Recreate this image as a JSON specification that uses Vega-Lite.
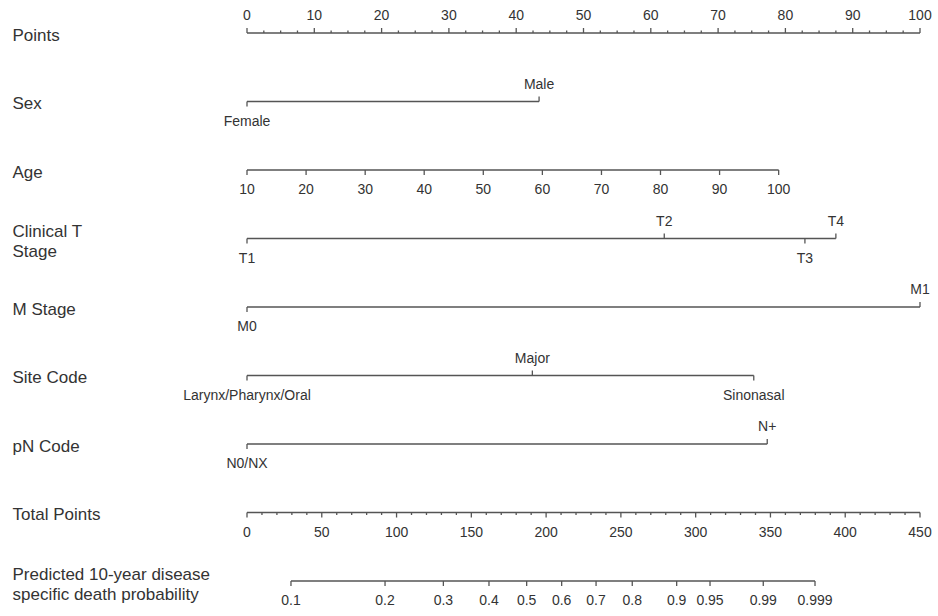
{
  "$schema": "https://vega.github.io/schema/vega-lite/v6.json",
  "width": 673,
  "height": 548,
  "autosize": {"type": "none"},
  "padding": {"left": 247, "top": 33, "right": 18, "bottom": 35},
  "background": "white",
  "config": {"view": {"stroke": null}, "font": "Liberation Sans"},
  "datasets": {
    "lines": [
      {"row": "Points", "s": "pts", "x0": 0, "x1": 100},
      {"row": "Sex", "s": "pts", "x0": 0, "x1": 43.4},
      {"row": "Age", "s": "pts", "x0": 0, "x1": 79},
      {"row": "Clinical T|Stage", "s": "pts", "x0": 0, "x1": 87.5},
      {"row": "M Stage", "s": "pts", "x0": 0, "x1": 100},
      {"row": "Site Code", "s": "pts", "x0": 0, "x1": 75.3},
      {"row": "pN Code", "s": "pts", "x0": 0, "x1": 77.3},
      {"row": "Total Points", "s": "tot", "x0": 0, "x1": 450},
      {"row": "Predicted 10-year disease|specific death probability", "s": "tot", "x0": 29.4, "x1": 379.8}
    ],
    "ticks": [
      {"row": "Points", "s": "pts", "v": 0, "label": "0", "dir": "up", "k": "major"},
      {"row": "Points", "s": "pts", "v": 10, "label": "10", "dir": "up", "k": "major"},
      {"row": "Points", "s": "pts", "v": 20, "label": "20", "dir": "up", "k": "major"},
      {"row": "Points", "s": "pts", "v": 30, "label": "30", "dir": "up", "k": "major"},
      {"row": "Points", "s": "pts", "v": 40, "label": "40", "dir": "up", "k": "major"},
      {"row": "Points", "s": "pts", "v": 50, "label": "50", "dir": "up", "k": "major"},
      {"row": "Points", "s": "pts", "v": 60, "label": "60", "dir": "up", "k": "major"},
      {"row": "Points", "s": "pts", "v": 70, "label": "70", "dir": "up", "k": "major"},
      {"row": "Points", "s": "pts", "v": 80, "label": "80", "dir": "up", "k": "major"},
      {"row": "Points", "s": "pts", "v": 90, "label": "90", "dir": "up", "k": "major"},
      {"row": "Points", "s": "pts", "v": 100, "label": "100", "dir": "up", "k": "major"},
      {"row": "Points", "s": "pts", "v": 2.5, "dir": "up", "k": "minor"},
      {"row": "Points", "s": "pts", "v": 5, "dir": "up", "k": "minor"},
      {"row": "Points", "s": "pts", "v": 7.5, "dir": "up", "k": "minor"},
      {"row": "Points", "s": "pts", "v": 12.5, "dir": "up", "k": "minor"},
      {"row": "Points", "s": "pts", "v": 15, "dir": "up", "k": "minor"},
      {"row": "Points", "s": "pts", "v": 17.5, "dir": "up", "k": "minor"},
      {"row": "Points", "s": "pts", "v": 22.5, "dir": "up", "k": "minor"},
      {"row": "Points", "s": "pts", "v": 25, "dir": "up", "k": "minor"},
      {"row": "Points", "s": "pts", "v": 27.5, "dir": "up", "k": "minor"},
      {"row": "Points", "s": "pts", "v": 32.5, "dir": "up", "k": "minor"},
      {"row": "Points", "s": "pts", "v": 35, "dir": "up", "k": "minor"},
      {"row": "Points", "s": "pts", "v": 37.5, "dir": "up", "k": "minor"},
      {"row": "Points", "s": "pts", "v": 42.5, "dir": "up", "k": "minor"},
      {"row": "Points", "s": "pts", "v": 45, "dir": "up", "k": "minor"},
      {"row": "Points", "s": "pts", "v": 47.5, "dir": "up", "k": "minor"},
      {"row": "Points", "s": "pts", "v": 52.5, "dir": "up", "k": "minor"},
      {"row": "Points", "s": "pts", "v": 55, "dir": "up", "k": "minor"},
      {"row": "Points", "s": "pts", "v": 57.5, "dir": "up", "k": "minor"},
      {"row": "Points", "s": "pts", "v": 62.5, "dir": "up", "k": "minor"},
      {"row": "Points", "s": "pts", "v": 65, "dir": "up", "k": "minor"},
      {"row": "Points", "s": "pts", "v": 67.5, "dir": "up", "k": "minor"},
      {"row": "Points", "s": "pts", "v": 72.5, "dir": "up", "k": "minor"},
      {"row": "Points", "s": "pts", "v": 75, "dir": "up", "k": "minor"},
      {"row": "Points", "s": "pts", "v": 77.5, "dir": "up", "k": "minor"},
      {"row": "Points", "s": "pts", "v": 82.5, "dir": "up", "k": "minor"},
      {"row": "Points", "s": "pts", "v": 85, "dir": "up", "k": "minor"},
      {"row": "Points", "s": "pts", "v": 87.5, "dir": "up", "k": "minor"},
      {"row": "Points", "s": "pts", "v": 92.5, "dir": "up", "k": "minor"},
      {"row": "Points", "s": "pts", "v": 95, "dir": "up", "k": "minor"},
      {"row": "Points", "s": "pts", "v": 97.5, "dir": "up", "k": "minor"},
      {"row": "Sex", "s": "pts", "v": 0, "label": "Female", "dir": "down", "k": "major"},
      {"row": "Sex", "s": "pts", "v": 43.4, "label": "Male", "dir": "up", "k": "major"},
      {"row": "Age", "s": "pts", "v": 0, "label": "10", "dir": "down", "k": "major"},
      {"row": "Age", "s": "pts", "v": 8.78, "label": "20", "dir": "down", "k": "major"},
      {"row": "Age", "s": "pts", "v": 17.56, "label": "30", "dir": "down", "k": "major"},
      {"row": "Age", "s": "pts", "v": 26.33, "label": "40", "dir": "down", "k": "major"},
      {"row": "Age", "s": "pts", "v": 35.11, "label": "50", "dir": "down", "k": "major"},
      {"row": "Age", "s": "pts", "v": 43.89, "label": "60", "dir": "down", "k": "major"},
      {"row": "Age", "s": "pts", "v": 52.67, "label": "70", "dir": "down", "k": "major"},
      {"row": "Age", "s": "pts", "v": 61.44, "label": "80", "dir": "down", "k": "major"},
      {"row": "Age", "s": "pts", "v": 70.22, "label": "90", "dir": "down", "k": "major"},
      {"row": "Age", "s": "pts", "v": 79, "label": "100", "dir": "down", "k": "major"},
      {"row": "Clinical T|Stage", "s": "pts", "v": 0, "label": "T1", "dir": "down", "k": "major"},
      {"row": "Clinical T|Stage", "s": "pts", "v": 62, "label": "T2", "dir": "up", "k": "major"},
      {"row": "Clinical T|Stage", "s": "pts", "v": 82.9, "label": "T3", "dir": "down", "k": "major"},
      {"row": "Clinical T|Stage", "s": "pts", "v": 87.5, "label": "T4", "dir": "up", "k": "major"},
      {"row": "M Stage", "s": "pts", "v": 0, "label": "M0", "dir": "down", "k": "major"},
      {"row": "M Stage", "s": "pts", "v": 100, "label": "M1", "dir": "up", "k": "major"},
      {"row": "Site Code", "s": "pts", "v": 0, "label": "Larynx/Pharynx/Oral", "dir": "down", "k": "major"},
      {"row": "Site Code", "s": "pts", "v": 42.4, "label": "Major", "dir": "up", "k": "major"},
      {"row": "Site Code", "s": "pts", "v": 75.3, "label": "Sinonasal", "dir": "down", "k": "major"},
      {"row": "pN Code", "s": "pts", "v": 0, "label": "N0/NX", "dir": "down", "k": "major"},
      {"row": "pN Code", "s": "pts", "v": 77.3, "label": "N+", "dir": "up", "k": "major"},
      {"row": "Total Points", "s": "tot", "v": 0, "label": "0", "dir": "down", "k": "major"},
      {"row": "Total Points", "s": "tot", "v": 50, "label": "50", "dir": "down", "k": "major"},
      {"row": "Total Points", "s": "tot", "v": 100, "label": "100", "dir": "down", "k": "major"},
      {"row": "Total Points", "s": "tot", "v": 150, "label": "150", "dir": "down", "k": "major"},
      {"row": "Total Points", "s": "tot", "v": 200, "label": "200", "dir": "down", "k": "major"},
      {"row": "Total Points", "s": "tot", "v": 250, "label": "250", "dir": "down", "k": "major"},
      {"row": "Total Points", "s": "tot", "v": 300, "label": "300", "dir": "down", "k": "major"},
      {"row": "Total Points", "s": "tot", "v": 350, "label": "350", "dir": "down", "k": "major"},
      {"row": "Total Points", "s": "tot", "v": 400, "label": "400", "dir": "down", "k": "major"},
      {"row": "Total Points", "s": "tot", "v": 450, "label": "450", "dir": "down", "k": "major"},
      {"row": "Total Points", "s": "tot", "v": 10, "dir": "down", "k": "minor"},
      {"row": "Total Points", "s": "tot", "v": 20, "dir": "down", "k": "minor"},
      {"row": "Total Points", "s": "tot", "v": 30, "dir": "down", "k": "minor"},
      {"row": "Total Points", "s": "tot", "v": 40, "dir": "down", "k": "minor"},
      {"row": "Total Points", "s": "tot", "v": 60, "dir": "down", "k": "minor"},
      {"row": "Total Points", "s": "tot", "v": 70, "dir": "down", "k": "minor"},
      {"row": "Total Points", "s": "tot", "v": 80, "dir": "down", "k": "minor"},
      {"row": "Total Points", "s": "tot", "v": 90, "dir": "down", "k": "minor"},
      {"row": "Total Points", "s": "tot", "v": 110, "dir": "down", "k": "minor"},
      {"row": "Total Points", "s": "tot", "v": 120, "dir": "down", "k": "minor"},
      {"row": "Total Points", "s": "tot", "v": 130, "dir": "down", "k": "minor"},
      {"row": "Total Points", "s": "tot", "v": 140, "dir": "down", "k": "minor"},
      {"row": "Total Points", "s": "tot", "v": 160, "dir": "down", "k": "minor"},
      {"row": "Total Points", "s": "tot", "v": 170, "dir": "down", "k": "minor"},
      {"row": "Total Points", "s": "tot", "v": 180, "dir": "down", "k": "minor"},
      {"row": "Total Points", "s": "tot", "v": 190, "dir": "down", "k": "minor"},
      {"row": "Total Points", "s": "tot", "v": 210, "dir": "down", "k": "minor"},
      {"row": "Total Points", "s": "tot", "v": 220, "dir": "down", "k": "minor"},
      {"row": "Total Points", "s": "tot", "v": 230, "dir": "down", "k": "minor"},
      {"row": "Total Points", "s": "tot", "v": 240, "dir": "down", "k": "minor"},
      {"row": "Total Points", "s": "tot", "v": 260, "dir": "down", "k": "minor"},
      {"row": "Total Points", "s": "tot", "v": 270, "dir": "down", "k": "minor"},
      {"row": "Total Points", "s": "tot", "v": 280, "dir": "down", "k": "minor"},
      {"row": "Total Points", "s": "tot", "v": 290, "dir": "down", "k": "minor"},
      {"row": "Total Points", "s": "tot", "v": 310, "dir": "down", "k": "minor"},
      {"row": "Total Points", "s": "tot", "v": 320, "dir": "down", "k": "minor"},
      {"row": "Total Points", "s": "tot", "v": 330, "dir": "down", "k": "minor"},
      {"row": "Total Points", "s": "tot", "v": 340, "dir": "down", "k": "minor"},
      {"row": "Total Points", "s": "tot", "v": 360, "dir": "down", "k": "minor"},
      {"row": "Total Points", "s": "tot", "v": 370, "dir": "down", "k": "minor"},
      {"row": "Total Points", "s": "tot", "v": 380, "dir": "down", "k": "minor"},
      {"row": "Total Points", "s": "tot", "v": 390, "dir": "down", "k": "minor"},
      {"row": "Total Points", "s": "tot", "v": 410, "dir": "down", "k": "minor"},
      {"row": "Total Points", "s": "tot", "v": 420, "dir": "down", "k": "minor"},
      {"row": "Total Points", "s": "tot", "v": 430, "dir": "down", "k": "minor"},
      {"row": "Total Points", "s": "tot", "v": 440, "dir": "down", "k": "minor"},
      {"row": "Predicted 10-year disease|specific death probability", "s": "tot", "v": 29.4, "label": "0.1", "dir": "down", "k": "major"},
      {"row": "Predicted 10-year disease|specific death probability", "s": "tot", "v": 92.3, "label": "0.2", "dir": "down", "k": "major"},
      {"row": "Predicted 10-year disease|specific death probability", "s": "tot", "v": 131.3, "label": "0.3", "dir": "down", "k": "major"},
      {"row": "Predicted 10-year disease|specific death probability", "s": "tot", "v": 161.8, "label": "0.4", "dir": "down", "k": "major"},
      {"row": "Predicted 10-year disease|specific death probability", "s": "tot", "v": 187.0, "label": "0.5", "dir": "down", "k": "major"},
      {"row": "Predicted 10-year disease|specific death probability", "s": "tot", "v": 210.4, "label": "0.6", "dir": "down", "k": "major"},
      {"row": "Predicted 10-year disease|specific death probability", "s": "tot", "v": 233.4, "label": "0.7", "dir": "down", "k": "major"},
      {"row": "Predicted 10-year disease|specific death probability", "s": "tot", "v": 257.6, "label": "0.8", "dir": "down", "k": "major"},
      {"row": "Predicted 10-year disease|specific death probability", "s": "tot", "v": 287.3, "label": "0.9", "dir": "down", "k": "major"},
      {"row": "Predicted 10-year disease|specific death probability", "s": "tot", "v": 309.6, "label": "0.95", "dir": "down", "k": "major"},
      {"row": "Predicted 10-year disease|specific death probability", "s": "tot", "v": 345.2, "label": "0.99", "dir": "down", "k": "major"},
      {"row": "Predicted 10-year disease|specific death probability", "s": "tot", "v": 379.8, "label": "0.999", "dir": "down", "k": "major"}
    ]
  },
  "encoding": {
    "y": {
      "field": "row",
      "type": "nominal",
      "title": null,
      "scale": {
        "type": "point",
        "padding": 0,
        "domain": ["Points", "Sex", "Age", "Clinical T|Stage", "M Stage", "Site Code", "pN Code", "Total Points", "Predicted 10-year disease|specific death probability"]
      },
      "axis": {
        "orient": "left",
        "ticks": false,
        "tickSize": 0,
        "domain": false,
        "grid": false,
        "labelPadding": 235,
        "labelAlign": "left",
        "labelBaseline": "middle",
        "labelOffset": {"condition": {"test": "indexof(datum.value, '|') >= 0", "value": -7}, "value": 2},
        "labelFont": "Liberation Sans",
        "labelFontSize": 17,
        "labelColor": "#333333",
        "labelLimit": 400,
        "labelLineHeight": 20,
        "labelExpr": "split(datum.label, '|')"
      }
    }
  },
  "layer": [
    {
      "layer": [
        {
          "data": {"name": "lines"},
          "transform": [{"filter": "datum.s == 'pts'"}],
          "mark": {"type": "rule", "color": "#555555", "strokeWidth": 1.3},
          "encoding": {
            "x": {"field": "x0", "type": "quantitative", "scale": {"domain": [0, 100], "nice": false, "zero": false}, "axis": null},
            "x2": {"field": "x1"}
          }
        },
        {
          "data": {"name": "ticks"},
          "transform": [{"filter": "datum.s == 'pts' && datum.dir == 'up' && datum.k == 'major'"}],
          "mark": {"type": "tick", "size": 5, "thickness": 1.3, "yOffset": -2.5, "color": "#555555", "opacity": 1},
          "encoding": {
            "x": {"field": "v", "type": "quantitative", "scale": {"domain": [0, 100], "nice": false, "zero": false}, "axis": null}
          }
        },
        {
          "data": {"name": "ticks"},
          "transform": [{"filter": "datum.s == 'pts' && datum.dir == 'up' && datum.k == 'minor'"}],
          "mark": {"type": "tick", "size": 2.5, "thickness": 1.3, "yOffset": -1.25, "color": "#555555", "opacity": 1},
          "encoding": {
            "x": {"field": "v", "type": "quantitative", "scale": {"domain": [0, 100], "nice": false, "zero": false}, "axis": null}
          }
        },
        {
          "data": {"name": "ticks"},
          "transform": [{"filter": "datum.s == 'pts' && datum.dir == 'down' && datum.k == 'major'"}],
          "mark": {"type": "tick", "size": 5, "thickness": 1.3, "yOffset": 2.5, "color": "#555555", "opacity": 1},
          "encoding": {
            "x": {"field": "v", "type": "quantitative", "scale": {"domain": [0, 100], "nice": false, "zero": false}, "axis": null}
          }
        },
        {
          "data": {"name": "ticks"},
          "transform": [{"filter": "datum.s == 'pts' && datum.dir == 'up' && datum.label"}],
          "mark": {"type": "text", "dy": -17, "fontSize": 14, "font": "Liberation Sans", "color": "#333333", "baseline": "middle", "align": "center"},
          "encoding": {
            "x": {"field": "v", "type": "quantitative", "scale": {"domain": [0, 100], "nice": false, "zero": false}, "axis": null},
            "text": {"field": "label"}
          }
        },
        {
          "data": {"name": "ticks"},
          "transform": [{"filter": "datum.s == 'pts' && datum.dir == 'down' && datum.label"}],
          "mark": {"type": "text", "dy": 20, "fontSize": 14, "font": "Liberation Sans", "color": "#333333", "baseline": "middle", "align": "center"},
          "encoding": {
            "x": {"field": "v", "type": "quantitative", "scale": {"domain": [0, 100], "nice": false, "zero": false}, "axis": null},
            "text": {"field": "label"}
          }
        }
      ]
    },
    {
      "layer": [
        {
          "data": {"name": "lines"},
          "transform": [{"filter": "datum.s == 'tot'"}],
          "mark": {"type": "rule", "color": "#555555", "strokeWidth": 1.3},
          "encoding": {
            "x": {"field": "x0", "type": "quantitative", "scale": {"domain": [0, 450], "nice": false, "zero": false}, "axis": null},
            "x2": {"field": "x1"}
          }
        },
        {
          "data": {"name": "ticks"},
          "transform": [{"filter": "datum.s == 'tot' && datum.k == 'major'"}],
          "mark": {"type": "tick", "size": 5, "thickness": 1.3, "yOffset": 2.5, "color": "#555555", "opacity": 1},
          "encoding": {
            "x": {"field": "v", "type": "quantitative", "scale": {"domain": [0, 450], "nice": false, "zero": false}, "axis": null}
          }
        },
        {
          "data": {"name": "ticks"},
          "transform": [{"filter": "datum.s == 'tot' && datum.k == 'minor'"}],
          "mark": {"type": "tick", "size": 2.5, "thickness": 1.3, "yOffset": 1.25, "color": "#555555", "opacity": 1},
          "encoding": {
            "x": {"field": "v", "type": "quantitative", "scale": {"domain": [0, 450], "nice": false, "zero": false}, "axis": null}
          }
        },
        {
          "data": {"name": "ticks"},
          "transform": [{"filter": "datum.s == 'tot' && datum.label"}],
          "mark": {"type": "text", "dy": 20, "fontSize": 14, "font": "Liberation Sans", "color": "#333333", "baseline": "middle", "align": "center"},
          "encoding": {
            "x": {"field": "v", "type": "quantitative", "scale": {"domain": [0, 450], "nice": false, "zero": false}, "axis": null},
            "text": {"field": "label"}
          }
        }
      ]
    }
  ],
  "resolve": {"scale": {"x": "independent"}}
}
